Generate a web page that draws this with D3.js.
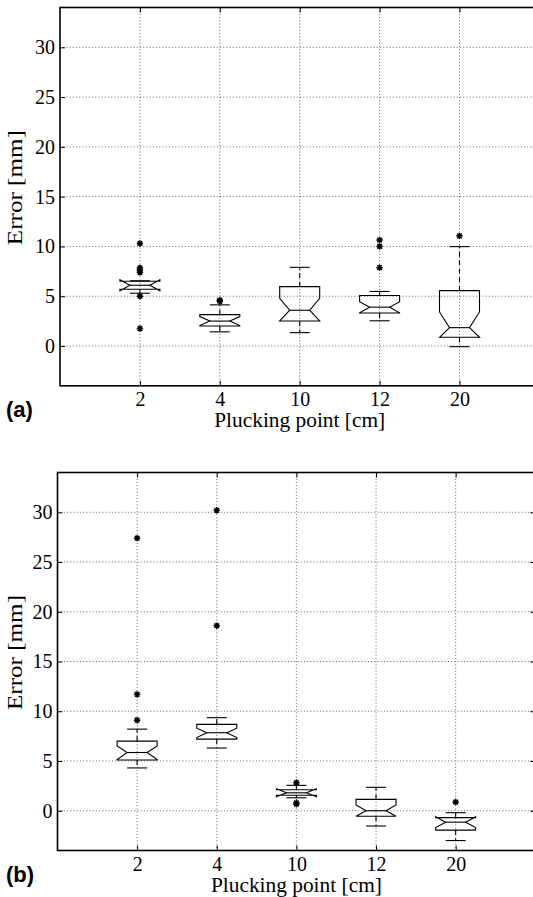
<!DOCTYPE html>
<html>
<head>
<meta charset="utf-8">
<script src="https://cdn.jsdelivr.net/npm/d3@7"></script>
<style>
  html, body { margin: 0; padding: 0; background: #fff; }
  svg { display: block; }
  .serif { font-family: "Liberation Serif", "Times New Roman", "Nimbus Roman", "DejaVu Serif", serif; }
  .sans { font-family: "Liberation Sans", Arial, Helvetica, sans-serif; }
</style>
</head>
<body>
<svg id="chart" width="533" height="897"></svg>
<script>
// ---------- data ----------
const categories = ["2", "4", "10", "12", "20"];
const yTicks = [0, 5, 10, 15, 20, 25, 30];

// Panel (a)
const q1A       = [5.70, 2.00, 2.51, 3.32, 0.87];
const medA      = [6.10, 2.50, 3.59, 3.90, 1.84];
const q3A       = [6.50, 3.15, 5.96, 5.07, 5.56];
const notchLoA  = [5.55, 2.05, 2.51, 3.33, 0.87];
const notchHiA  = [6.65, 2.95, 4.79, 4.45, 3.42];
const whiskLoA  = [5.30, 1.42, 1.34, 2.53, -0.07];
const whiskHiA  = [6.55, 4.13, 7.90, 5.48, 9.98];
const outliersA = [[10.3, 7.85, 7.6, 7.4, 5.0, 1.75], [4.6, 4.5], [], [10.65, 10.0, 7.87], [11.06]];

// Panel (b)
const q1B       = [5.10, 7.20, 1.55, -0.55, -1.95];
const medB      = [5.85, 7.84, 1.80, 0.00, -1.15];
const q3B       = [7.00, 8.68, 2.10, 1.14, -0.70];
const notchLoB  = [5.15, 7.35, 1.40, -0.55, -1.70];
const notchHiB  = [6.50, 8.30, 2.20, 0.57, -0.60];
const whiskLoB  = [4.30, 6.30, 1.30, -1.54, -3.00];
const whiskHiB  = [8.20, 9.35, 2.55, 2.35, -0.20];
const outliersB = [[27.4, 11.7, 9.1], [30.2, 18.6], [2.82, 0.8, 0.65], [], [0.87]];

const yDomain = [-4, 34];

// ---------- drawing ----------
const svg = d3.select("#chart");

function panel(cfg) {
  const {left, right, top, bottom, q1, med, q3, nlo, nhi, wlo, whi, outs, tag} = cfg;
  const x = d3.scalePoint().domain(categories).range([left, right]).padding(1);
  const y = d3.scaleLinear().domain(yDomain).range([bottom, top]);
  const g = svg.append("g");
  const W = 20, Wn = 10, Wc = 10;

  const clipId = "clip" + tag;
  svg.append("clipPath").attr("id", clipId).append("rect")
    .attr("x", left).attr("y", top).attr("width", right - left).attr("height", bottom - top);

  // grid
  const grid = g.append("g").attr("clip-path", `url(#${clipId})`)
    .attr("stroke", "#555").attr("stroke-width", 0.9).attr("stroke-dasharray", "1,2.2");
  grid.selectAll("line.h").data(yTicks).join("line")
    .attr("x1", left).attr("x2", right).attr("y1", d => y(d)).attr("y2", d => y(d));
  grid.selectAll("line.v").data(categories).join("line")
    .attr("x1", d => x(d)).attr("x2", d => x(d)).attr("y1", top).attr("y2", bottom);

  // boxes
  const bx = g.append("g").attr("fill", "none").attr("stroke", "#000").attr("stroke-width", 1.1);
  categories.forEach((c, i) => {
    const cx = x(c);
    bx.append("line").attr("x1", cx).attr("x2", cx).attr("y1", y(q3[i])).attr("y2", y(whi[i]))
      .attr("stroke-dasharray", "5,3.5");
    bx.append("line").attr("x1", cx).attr("x2", cx).attr("y1", y(q1[i])).attr("y2", y(wlo[i]))
      .attr("stroke-dasharray", "5,3.5");
    bx.append("line").attr("x1", cx - Wc).attr("x2", cx + Wc).attr("y1", y(whi[i])).attr("y2", y(whi[i]));
    bx.append("line").attr("x1", cx - Wc).attr("x2", cx + Wc).attr("y1", y(wlo[i])).attr("y2", y(wlo[i]));
    const p = d3.path();
    p.moveTo(cx - W, y(q1[i]));
    p.lineTo(cx - W, y(nlo[i]));
    p.lineTo(cx - Wn, y(med[i]));
    p.lineTo(cx - W, y(nhi[i]));
    p.lineTo(cx - W, y(q3[i]));
    p.lineTo(cx + W, y(q3[i]));
    p.lineTo(cx + W, y(nhi[i]));
    p.lineTo(cx + Wn, y(med[i]));
    p.lineTo(cx + W, y(nlo[i]));
    p.lineTo(cx + W, y(q1[i]));
    p.closePath();
    bx.append("path").attr("d", p.toString());
    bx.append("line").attr("x1", cx - Wn).attr("x2", cx + Wn).attr("y1", y(med[i])).attr("y2", y(med[i]));
    const star = "M-3.2,0H3.2M0,-3.2V3.2M-2.3,-2.3L2.3,2.3M-2.3,2.3L2.3,-2.3";
    outs[i].forEach(v => {
      bx.append("path").attr("d", star).attr("stroke-width", 1.5)
        .attr("transform", `translate(${cx},${y(v)})`);
    });
  });

  // axes
  const ax = g.append("g").attr("transform", `translate(${left},0)`)
    .call(d3.axisLeft(y).tickValues(yTicks).tickSize(-5).tickPadding(5).tickSizeOuter(0));
  const bxAxis = g.append("g").attr("transform", `translate(0,${bottom})`)
    .call(d3.axisBottom(x).tickSize(-5).tickPadding(6).tickSizeOuter(0));
  const tAxis = g.append("g").attr("transform", `translate(0,${top})`)
    .call(d3.axisTop(x).tickSize(-5).tickFormat("").tickSizeOuter(0));
  const rAxis = g.append("g").attr("transform", `translate(${right},0)`)
    .call(d3.axisRight(y).tickValues(yTicks).tickSize(-5).tickFormat("").tickSizeOuter(0));
  [ax, bxAxis, tAxis, rAxis].forEach(a => {
    a.attr("font-family", null).attr("font-size", null);
    a.select(".domain").remove();
    a.selectAll(".tick line").attr("stroke", "#000").attr("stroke-width", 1);
    a.selectAll("text").attr("class", "serif").style("font-size", "20px").attr("fill", "#000");
  });

  // frame
  g.append("rect").attr("x", left).attr("y", top).attr("width", right - left).attr("height", bottom - top)
    .attr("fill", "none").attr("stroke", "#000").attr("stroke-width", 1.6);

  // labels
  g.append("text").attr("class", "serif").attr("x", x(categories[2])).attr("y", bottom + 41.5)
    .attr("text-anchor", "middle").style("font-size", "21px")
    .attr("textLength", 171).attr("lengthAdjust", "spacingAndGlyphs")
    .text("Plucking point [cm]");
  const ym = (top + bottom) / 2 - 9;
  g.append("text").attr("class", "serif").attr("transform", `translate(22,${ym}) rotate(-90)`)
    .attr("text-anchor", "middle").style("font-size", "21px")
    .attr("textLength", 115).attr("lengthAdjust", "spacingAndGlyphs")
    .text("Error [mm]");
  g.append("text").attr("class", "sans").attr("x", 6).attr("y", bottom + 31)
    .style("font-weight", "bold").style("font-size", "22px")
    .text(tag === "A" ? "(a)" : "(b)");
}

panel({left: 60, right: 539.4, top: 7.5, bottom: 385.8,
  q1: q1A, med: medA, q3: q3A, nlo: notchLoA, nhi: notchHiA, wlo: whiskLoA, whi: whiskHiA, outs: outliersA, tag: "A"});
panel({left: 57.5, right: 535.3, top: 472.5, bottom: 850.5,
  q1: q1B, med: medB, q3: q3B, nlo: notchLoB, nhi: notchHiB, wlo: whiskLoB, whi: whiskHiB, outs: outliersB, tag: "B"});
</script>
</body>
</html>
